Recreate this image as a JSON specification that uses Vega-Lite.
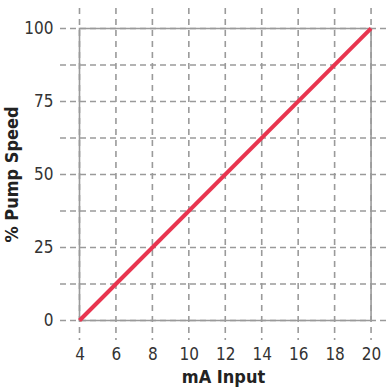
{
  "$schema": "https://vega.github.io/schema/vega-lite/v6.json",
  "autosize": "none",
  "width": 326,
  "height": 332,
  "padding": {"left": 60, "top": 8, "right": 0, "bottom": 52},
  "background": "white",
  "config": {
    "view": {"stroke": null},
    "axis": {
      "domain": false,
      "ticks": false,
      "grid": false,
      "labelFont": "'DejaVu Sans Condensed', 'Liberation Sans', sans-serif",
      "labelFontSize": 17,
      "labelColor": "#333333",
      "titleFont": "'DejaVu Sans Condensed', 'Liberation Sans', sans-serif",
      "titleFontSize": 18,
      "titleFontWeight": "bold",
      "titleColor": "#222222"
    }
  },
  "datasets": {
    "vgrid": [{"x": 4}, {"x": 6}, {"x": 8}, {"x": 10}, {"x": 12}, {"x": 14}, {"x": 16}, {"x": 18}, {"x": 20}],
    "hgrid": [{"y": 0}, {"y": 12.5}, {"y": 25}, {"y": 37.5}, {"y": 50}, {"y": 62.5}, {"y": 75}, {"y": 87.5}, {"y": 100}],
    "frame": [{"x": 4, "x2": 20, "y": 0, "y2": 100}],
    "line": [{"x": 4, "y": 0}, {"x": 20, "y": 100}]
  },
  "layer": [
    {
      "data": {"name": "vgrid"},
      "mark": {"type": "rule", "color": "#9a9a9a", "strokeWidth": 1.6, "strokeDash": [6, 5]},
      "encoding": {
        "x": {"field": "x", "type": "quantitative", "scale": {"domain": [2.93, 20.82], "nice": false, "zero": false}}
      }
    },
    {
      "data": {"name": "hgrid"},
      "mark": {"type": "rule", "color": "#9a9a9a", "strokeWidth": 1.6, "strokeDash": [6, 4]},
      "encoding": {
        "y": {"field": "y", "type": "quantitative", "scale": {"domain": [-6.68, 107.0], "nice": false, "zero": false}}
      }
    },
    {
      "data": {"name": "frame"},
      "mark": {"type": "rect", "fill": null, "fillOpacity": 0, "stroke": "#9a9a9a", "strokeWidth": 1.6},
      "encoding": {
        "x": {"field": "x", "type": "quantitative"},
        "x2": {"field": "x2"},
        "y": {"field": "y", "type": "quantitative"},
        "y2": {"field": "y2"}
      }
    },
    {
      "data": {"name": "line"},
      "mark": {"type": "line", "color": "#e8354f", "strokeWidth": 4, "strokeCap": "butt"},
      "encoding": {
        "x": {"field": "x", "type": "quantitative", "title": "mA Input",
          "axis": {"values": [4, 6, 8, 10, 12, 14, 16, 18, 20], "labelPadding": 6, "titlePadding": 6}},
        "y": {"field": "y", "type": "quantitative", "title": "% Pump Speed",
          "axis": {"values": [0, 25, 50, 75, 100], "labelPadding": 7, "titlePadding": 2}}
      }
    }
  ]
}
